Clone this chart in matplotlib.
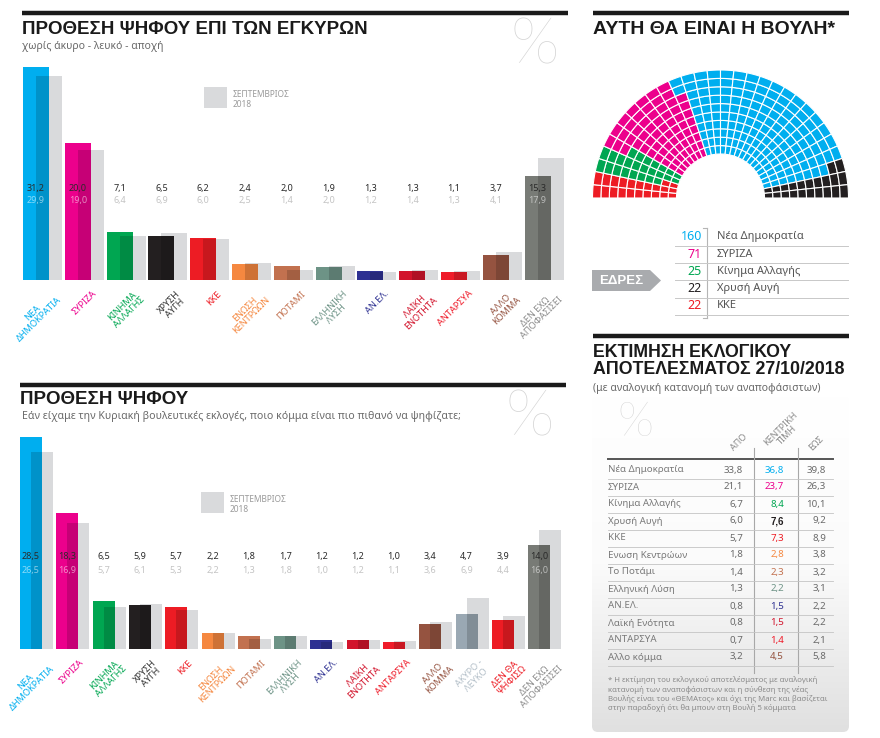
import numpy as np
import matplotlib.pyplot as plt
import matplotlib.colors as mcolors
from matplotlib.patches import Wedge, Polygon, Rectangle, FancyBboxPatch

plt.rcParams['font.family'] = ['Noto Sans', 'DejaVu Sans']

# ---------------- data ----------------
top_labels = ['ΝΕΑ\nΔΗΜΟΚΡΑΤΙΑ', 'ΣΥΡΙΖΑ', 'ΚΙΝΗΜΑ\nΑΛΛΑΓΗΣ', 'ΧΡΥΣΗ\nΑΥΓΗ', 'ΚΚΕ',
              'ΕΝΩΣΗ\nΚΕΝΤΡΩΩΝ', 'ΠΟΤΑΜΙ', 'ΕΛΛΗΝΙΚΗ\nΛΥΣΗ', 'ΑΝ.ΕΛ.', 'ΛΑΪΚΗ\nΕΝΟΤΗΤΑ',
              'ΑΝΤΑΡΣΥΑ', 'ΑΛΛΟ\nΚΟΜΜΑ', 'ΔΕΝ ΕΧΩ\nΑΠΟΦΑΣΙΣΕΙ']
top_oct = [31.2, 20.0, 7.1, 6.5, 6.2, 2.4, 2.0, 1.9, 1.3, 1.3, 1.1, 3.7, 15.3]
top_sep = [29.9, 19.0, 6.4, 6.9, 6.0, 2.5, 1.4, 2.0, 1.2, 1.4, 1.3, 4.1, 17.9]
top_keys = ['nd', 'syriza', 'kinal', 'xa', 'kke', 'ek', 'potami', 'el', 'anel', 'lae',
            'antarsya', 'allo', 'denexo']

bot_labels = ['ΝΕΑ\nΔΗΜΟΚΡΑΤΙΑ', 'ΣΥΡΙΖΑ', 'ΚΙΝΗΜΑ\nΑΛΛΑΓΗΣ', 'ΧΡΥΣΗ\nΑΥΓΗ', 'ΚΚΕ',
              'ΕΝΩΣΗ\nΚΕΝΤΡΩΩΝ', 'ΠΟΤΑΜΙ', 'ΕΛΛΗΝΙΚΗ\nΛΥΣΗ', 'ΑΝ.ΕΛ.', 'ΛΑΪΚΗ\nΕΝΟΤΗΤΑ',
              'ΑΝΤΑΡΣΥΑ', 'ΑΛΛΟ\nΚΟΜΜΑ', 'ΑΚΥΡΟ -\nΛΕΥΚΟ', 'ΔΕΝ ΘΑ\nΨΗΦΙΣΩ', 'ΔΕΝ ΕΧΩ\nΑΠΟΦΑΣΙΣΕΙ']
bot_oct = [28.5, 18.3, 6.5, 5.9, 5.7, 2.2, 1.8, 1.7, 1.2, 1.2, 1.0, 3.4, 4.7, 3.9, 14.0]
bot_sep = [26.5, 16.9, 5.7, 6.1, 5.3, 2.2, 1.3, 1.8, 1.0, 1.2, 1.1, 3.6, 6.9, 4.4, 16.0]
bot_keys = ['nd', 'syriza', 'kinal', 'xa', 'kke', 'ek', 'potami', 'el', 'anel', 'lae',
            'antarsya', 'allo', 'akyro', 'denpsi', 'denexo']

seat_names = ['Νέα Δημοκρατία', 'ΣΥΡΙΖΑ', 'Κίνημα Αλλαγής', 'Χρυσή Αυγή', 'ΚΚΕ']
seat_counts = [160, 71, 25, 22, 22]
seat_keys = ['nd', 'syriza', 'kinal', 'xa', 'kke']
arch_order = ['kke', 'kinal', 'syriza', 'nd', 'xa']  # left to right in the hemicycle

est_names = ['Νέα Δημοκρατία', 'ΣΥΡΙΖΑ', 'Κίνημα Αλλαγής', 'Χρυσή Αυγή', 'ΚΚΕ',
             'Ενωση Κεντρώων', 'Το Ποτάμι', 'Ελληνική Λύση', 'ΑΝ.ΕΛ.', 'Λαϊκή Ενότητα',
             'ΑΝΤΑΡΣΥΑ', 'Αλλο κόμμα']
est_low = [33.8, 21.1, 6.7, 6.0, 5.7, 1.8, 1.4, 1.3, 0.8, 0.8, 0.7, 3.2]
est_mid = [36.8, 23.7, 8.4, 7.6, 7.3, 2.8, 2.3, 2.2, 1.5, 1.5, 1.4, 4.5]
est_high = [39.8, 26.3, 10.1, 9.2, 8.9, 3.8, 3.2, 3.1, 2.2, 2.2, 2.1, 5.8]
est_keys = ['nd', 'syriza', 'kinal', 'xa', 'kke', 'ek', 'potami', 'el', 'anel', 'lae',
            'antarsya', 'allo']

# ---------------- styles ----------------
colors = {'nd': '#00aeef', 'syriza': '#ec008c', 'kinal': '#00a651', 'xa': '#231f20',
          'kke': '#ed1c24', 'ek': '#f58840', 'potami': '#c2714f', 'el': '#6d9386',
          'anel': '#2e3192', 'lae': '#d2142c', 'antarsya': '#ef1c2a', 'allo': '#955340',
          'akyro': '#9aa8b3', 'denpsi': '#ed1c24', 'denexo': '#787b76'}
label_colors = dict(colors, denexo='#8c8c8c', akyro='#b3bfc8', xa='#333333')
SEPT = '#d9dadc'
BOLD = ['Liberation Sans', 'DejaVu Sans']

W, H = 880, 738
fig = plt.figure(figsize=(W / 100, H / 100), dpi=100)


def px_axes(left, top, right, bottom):
    return fig.add_axes([left / W, 1 - bottom / H, (right - left) / W, (bottom - top) / H])


def fmt(v):
    return f'{v:.1f}'.replace('.', ',')


def darker(c, f=0.84):
    r, g, b = mcolors.to_rgb(c)
    return (r * f, g * f, b * f)


bg = px_axes(0, 0, W, H)
bg.axis('off')

# gradient box behind estimate table
grad = np.linspace(0, 1, 256)[:, None]
gcmap = mcolors.LinearSegmentedColormap.from_list('g', ['#ffffff', '#fbfbfb', '#e0e0e0'])
im = bg.imshow(grad, extent=(592, 849, 732, 396), cmap=gcmap, aspect='auto', zorder=0)
box = FancyBboxPatch((592, 396), 257, 336, boxstyle='round,pad=0,rounding_size=6',
                     fc='none', ec='none', transform=bg.transData)
bg.add_patch(box)
im.set_clip_path(box)
bg.set_xlim(0, W)
bg.set_ylim(H, 0)


def header(x0, x1, y_rule, y_title, title, size=13.5):
    bg.plot([x0, x1], [y_rule, y_rule], color='#1a1a1a', lw=3.2, solid_capstyle='butt')
    bg.text(x0, y_title, title, fontsize=size, fontweight='bold', color='#1a1a1a',
            va='center', ha='left', family=BOLD)


def big_pct(x, y, size=46):
    bg.text(x, y, '%', fontsize=size, color='#d3d3d3', ha='center', va='center',
            family=['Lato', 'DejaVu Sans'], fontweight='light')


def legend_box(x, y):
    bg.add_patch(Rectangle((x, y), 23, 21, color=SEPT, lw=0))
    bg.text(x + 29, y + 3, 'ΣΕΠΤΕΜΒΡΙΟΣ\n2018', fontsize=6, color='#9a9a9a',
            ha='left', va='top', linespacing=1.1)


def bar_panel(box_px, first_left, slot, bar_w, ppu, labels, cur, prev, keys):
    left, top, right, bottom = box_px
    ax = px_axes(left, top, right, bottom)
    ax.axis('off')
    ax.patch.set_alpha(0)
    n = len(cur)
    x = np.arange(n)
    w = bar_w / slot
    cols = [colors[k] for k in keys]
    ax.bar(x + w / 2, prev, w, align='edge', color=SEPT, lw=0)
    ax.bar(x, cur, w, align='edge', color=cols, lw=0)
    ax.bar(x + w / 2, np.minimum(cur, prev), w / 2, align='edge',
           color=[darker(c) for c in cols], lw=0)
    ax.set_xlim((left - first_left) / slot, (right - first_left) / slot)
    ax.set_ylim(0, (bottom - top) / ppu)
    y1 = 92 / ppu
    y2 = 79 / ppu
    for i in range(n):
        inside = cur[i] > y1 - 0.5
        ax.text(i + w / 2, y1, fmt(cur[i]), fontsize=6.5, color='#2a2a2a',
                ha='center', va='center')
        ax.text(i + w / 2, y2, fmt(prev[i]), fontsize=6.5,
                color=(1, 1, 1, 0.55) if inside else '#c4c4c4', ha='center', va='center')
        ax.text(i + (bar_w + 1) / slot, -9 / ppu, labels[i], fontsize=6.6,
                color=label_colors[keys[i]], rotation=45, rotation_mode='anchor',
                ha='right', va='top', multialignment='center', linespacing=1.0,
                clip_on=False)
    return ax


# ---------------- top-left chart ----------------
header(22, 568, 13, 29, 'ΠΡΟΘΕΣΗ ΨΗΦΟΥ ΕΠΙ ΤΩΝ ΕΓΚΥΡΩΝ')
bg.text(22, 47, 'χωρίς άκυρο - λευκό - αποχή', fontsize=7.5, color='#6a6a6a', va='center')
big_pct(535, 46)
legend_box(204, 87)
bar_panel((18, 50, 570, 280), 23, 41.8, 26, 6.83, top_labels, top_oct, top_sep, top_keys)

# ---------------- bottom-left chart ----------------
header(20, 566, 385, 399, 'ΠΡΟΘΕΣΗ ΨΗΦΟΥ')
bg.text(22, 416, 'Εάν είχαμε την Κυριακή βουλευτικές εκλογές, ποιο κόμμα είναι πιο πιθανό '
        'να ψηφίζατε;', fontsize=7.6, color='#6a6a6a', va='center')
big_pct(530, 418)
legend_box(201, 492)
bar_panel((15, 420, 570, 649), 20, 36.3, 22, 7.44, bot_labels, bot_oct, bot_sep, bot_keys)

# ---------------- hemicycle ----------------
header(593, 849, 13, 29, 'ΑΥΤΗ ΘΑ ΕΙΝΑΙ Η ΒΟΥΛΗ*', size=14)
cx, cy = 720.5, 198
hx = px_axes(588, 62, 853, 202)
hx.axis('off')
hx.patch.set_alpha(0)
hx.set_xlim(588 - cx, 853 - cx)
hx.set_ylim(cy - 202, cy - 62)
n_rows, n_cols = 10, 30
r_in, r_out = 44, 128
dr = (r_out - r_in) / n_rows
da = 180 / n_cols
seat_seq = []
for k in arch_order:
    seat_seq += [k] * seat_counts[seat_keys.index(k)]
for s, k in enumerate(seat_seq):
    c, r = divmod(s, n_rows)
    t2 = 180 - c * da
    hx.add_patch(Wedge((0, 0), r_in + (r + 1) * dr, t2 - da, t2, width=dr,
                       fc=colors[k], ec='white', lw=0.8))

# seats table
bg.plot([707, 707], [228, 318], color='#b5b5b5', lw=0.8)
bg.plot([703, 707], [228, 228], color='#b5b5b5', lw=0.8)
bg.plot([703, 707], [318, 318], color='#b5b5b5', lw=0.8)
for i, (name, cnt, k) in enumerate(zip(seat_names, seat_counts, seat_keys)):
    y = 237 + i * 17.2
    bg.text(702, y, str(cnt), fontsize=9, color=colors[k], ha='right', va='center')
    bg.text(717, y, name, fontsize=8, color='#555555', ha='left', va='center')
    bg.plot([675, 848], [y + 9, y + 9], color='#c8c8c8', lw=0.7)
bg.add_patch(Polygon([(592, 270), (650, 270), (661, 280.5), (650, 291), (592, 291)],
                     closed=True, fc='#a9abae', ec='none'))
bg.text(621, 281, 'ΕΔΡΕΣ', fontsize=9.5, fontweight='bold', color='white',
        ha='center', va='center', family=BOLD)

# ---------------- estimate table ----------------
bg.plot([593, 849], [336, 336], color='#1a1a1a', lw=3.2, solid_capstyle='butt')
bg.text(593, 361, 'ΕΚΤΙΜΗΣΗ ΕΚΛΟΓΙΚΟΥ\nΑΠΟΤΕΛΕΣΜΑΤΟΣ 27/10/2018', fontsize=12.8,
        fontweight='bold', color='#1a1a1a', ha='left', va='center', linespacing=0.95,
        family=BOLD)
bg.text(593, 388, '(με αναλογική κατανομή των αναποφάσιστων)', fontsize=7.5,
        color='#6a6a6a', ha='left', va='center')
big_pct(635, 423, size=34)
bg.text(739, 442, 'ΑΠΟ', fontsize=6.5, color='#8a8a8a', rotation=45, ha='center', va='center')
bg.text(784, 432, 'ΚΕΝΤΡΙΚΗ\nΤΙΜΗ', fontsize=6.5, color='#8a8a8a', rotation=45,
        ha='center', va='center', multialignment='center', linespacing=1.0)
bg.text(816, 443, 'ΕΩΣ', fontsize=6.5, color='#8a8a8a', rotation=45, ha='center', va='center')
bg.plot([608, 833], [459, 459], color='#555555', lw=1.4)
for xv in (754, 798):
    bg.plot([xv, xv], [448, 673], color='#a8a8a8', lw=0.8)
for i, name in enumerate(est_names):
    y = 470 + i * 17
    bg.text(608, y, name, fontsize=7, color='#7a7a7a', ha='left', va='center')
    bg.text(743, y, fmt(est_low[i]), fontsize=7, color='#6a6a6a', ha='right', va='center')
    bg.text(784, y, fmt(est_mid[i]), fontsize=7, color=colors[est_keys[i]],
            ha='right', va='center', fontweight='bold' if est_keys[i] == 'xa' else 'normal',
            family=BOLD if est_keys[i] == 'xa' else None)
    bg.text(826, y, fmt(est_high[i]), fontsize=7, color='#6a6a6a', ha='right', va='center')
    bg.plot([608, 833], [y + 8.5, y + 8.5], color='#c4c4c4', lw=0.6)
bg.text(608, 676, '* Η εκτίμηση του εκλογικού αποτελέσματος με αναλογική\n'
        'κατανομή των αναποφάσιστων και η σύνθεση της νέας\n'
        'Βουλής είναι του «ΘΕΜΑτος» και όχι της Marc και βασίζεται\n'
        'στην παραδοχή ότι θα μπουν στη Βουλή 5 κόμματα',
        fontsize=5.6, color='#8a8a8a', ha='left', va='top', linespacing=1.25)

fig.savefig('out.png', dpi=100)
